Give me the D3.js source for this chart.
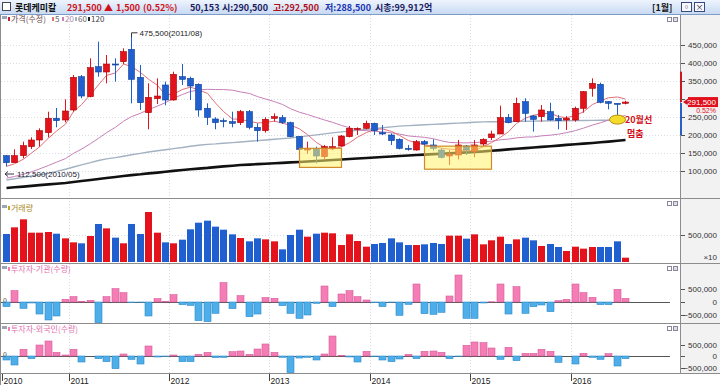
<!DOCTYPE html>
<html>
<head>
<meta charset="utf-8">
<script src="https://cdn.jsdelivr.net/npm/d3@7"></script>
<style>
body { margin: 0; background: #fff; }
svg { display: block; font-family: "Noto Sans CJK KR", "Liberation Sans", sans-serif; }
</style>
</head>
<body>
<svg id="chart" width="720" height="385"></svg>
<script>
// monthly candles, 2010/05 .. 2016/07
var opens = [142600,123200,142600,167600,186100,206500,246300,241700,269500,362000,
  306500,389800,375000,397200,403700,437900,360200,262000,300900,338900,
  297200,362000,357400,340800,274100,244500,239800,237000,234300,264800,
  221300,212000,246300,248100,234300,195400,158300,160200,139800,162900,
  169500,195400,215800,218500,232400,206500,200000,188000,162900,158300,
  181500,172300,158300,141700,144500,169500,153700,175000,192600,202800,
  249100,237000,292600,252800,250900,264800,246300,241700,241700,274100,
  329600,340800,292600,288000,288000];
var highs = [144500,160200,181500,193500,218500,264800,275000,299100,366700,366700,
  413000,459300,422200,413000,440700,475500,394500,343500,357400,348200,
  375900,397200,362000,343500,288000,249100,246300,264800,269500,269500,
  232400,249100,260200,255600,237000,197200,181500,167600,172300,193500,
  200000,225000,221300,239800,234300,227800,204600,190800,172300,186100,
  186100,188000,162900,158300,186100,172300,186100,190800,212000,281500,
  258300,303700,301900,255600,283300,289800,255600,252800,278700,322200,
  357400,345400,294400,288000,295000];
var lows = [112500,123200,135200,161100,167600,193500,221300,235200,264800,301900,
  304600,362000,343500,348200,397200,288000,269500,215800,286100,282400,
  295400,338900,297200,250900,227800,215800,221300,221300,227800,215800,
  181500,206500,237000,230600,193500,158300,147200,121300,130600,158300,
  167600,193500,200000,215800,200000,200000,172300,160200,156500,156500,
  169500,156500,135200,116700,132400,144500,138000,169500,186100,202800,
  232400,237000,237000,209300,237000,239800,215800,213900,237000,262000,
  306500,288000,271300,255600,285000];
var closes = [123200,142600,170400,186100,212000,246300,239800,266700,360200,308300,
  387000,375000,397200,394500,431500,354600,289800,304600,308300,297200,
  368500,354600,336100,269500,249100,234300,237000,232400,264800,221300,
  212000,243500,250900,235200,195400,160200,162900,141700,167600,167600,
  197200,218500,218500,232400,212000,202800,184300,162900,160200,181500,
  175000,162900,138000,147200,172300,158300,172300,188000,202800,248100,
  234300,288000,260200,243500,269500,241700,239800,246300,274100,320400,
  343500,290800,288000,285200,291500];

// moving averages as drawn on the chart
var ma5 = [113000,120000,133000,150000,166900,191500,210900,230200,265000,284300,
  312400,339400,365500,372400,397000,390600,373500,355000,337800,310900,
  313700,326600,332900,325200,315600,288700,265200,244500,243500,238000,
  233500,234800,238500,232600,227400,217000,200900,179100,165600,160000,
  167400,178500,193900,206800,215700,216800,210000,198900,184400,178300,
  172800,168500,163500,160900,159100,155700,157600,167600,178700,193900,
  209100,232200,246700,254800,259100,260600,250900,248200,254300,264500,
  284800,295000,303400,305600,299800];
var ma20 = [80300,84900,90900,97700,105800,115400,124400,134500,149000,160600,
  176000,190700,206300,221500,238300,251000,260500,270500,280400,289800,
  302000,312600,320900,325100,326900,326300,326200,324500,319700,315400,
  306600,300000,292700,284800,273000,263200,256900,248700,241700,235200,
  226700,219900,214000,212100,210300,208700,206100,202600,197400,195400,
  193500,189500,183800,179400,178300,178200,178700,181000,182700,186800,
  188600,192100,194200,194700,197600,199600,202300,206500,212200,219100,
  227600,234000,241500,248400,254300];
var ma60 = [75000,78600,82200,86100,89700,93300,98900,105000,111100,116900,
  123100,129200,133600,137200,141100,145000,148900,152800,156100,159200,
  162200,165300,168600,171700,173900,175300,177200,178900,180600,182500,
  184400,186100,188100,190000,191700,194700,197500,200300,203100,205800,
  208600,210800,213000,215600,217800,220000,222500,224700,226100,227200,
  228300,229400,230600,231900,233100,234200,235300,236400,236700,236900,
  237500,237800,238100,238600,238900,239200,239400,239700,240000,240300,
  240600,240800,241100,241400,241700];
var ma120 = [52800,54700,56700,58600,60800,62800,64700,66700,69400,72200,
  75000,77800,80600,83300,86100,88600,90800,93300,95600,98100,
  100300,102800,104700,106700,108600,110800,112800,114700,116700,117800,
  119200,120300,121400,122500,123900,125000,126400,127800,129200,130600,
  131900,133300,134700,136100,137500,138900,140300,141700,143100,144400,
  145500,146900,148100,149200,150300,151700,152800,154400,156400,158100,
  160000,161700,163600,165300,167000,168900,170600,172500,174200,176100,
  177800,179700,181700,183900,186100];

// volume (x10)
var volume = [524000,649000,799000,549000,549000,562000,530000,443000,368000,350000,
  487000,712000,630000,456000,350000,712000,524000,936000,549000,368000,
  350000,418000,612000,736000,774000,662000,605000,518000,449000,387000,
  443000,424000,387000,237000,506000,605000,474000,530000,549000,537000,
  318000,518000,393000,287000,337000,356000,443000,368000,318000,318000,
  331000,356000,337000,493000,493000,437000,518000,331000,406000,474000,
  337000,424000,456000,406000,300000,337000,281000,206000,287000,250000,
  281000,281000,281000,387000,81000];
// investor net buying (shares)
var institution = [-179000,436000,-244000,-38000,-462000,-692000,-538000,103000,205000,20000,
  64000,-795000,205000,513000,359000,-26000,-10000,-538000,128000,26000,
  282000,-103000,-128000,-718000,-756000,-436000,744000,-256000,244000,-564000,
  -462000,167000,141000,-141000,-436000,-628000,-500000,-51000,615000,-179000,
  308000,436000,205000,77000,-26000,-179000,-10000,-513000,-90000,692000,
  -449000,-474000,-397000,231000,1038000,-628000,-628000,-38000,10000,692000,
  -462000,590000,-436000,-179000,-115000,-372000,51000,103000,692000,359000,
  179000,-103000,-103000,487000,141000];
var foreign = [-174000,-391000,290000,-116000,478000,652000,159000,43000,290000,-261000,
  0,-116000,-246000,-551000,87000,-145000,-348000,435000,-43000,-20000,
  43000,-246000,-246000,72000,159000,-72000,-58000,188000,217000,72000,
  304000,522000,159000,-58000,-725000,-87000,-58000,-174000,87000,869000,
  29000,-43000,-261000,203000,-15000,-174000,-246000,-130000,72000,-116000,
  203000,217000,159000,-116000,-15000,464000,609000,580000,348000,-145000,
  377000,-203000,116000,116000,290000,203000,-275000,0,-348000,116000,
  -58000,-145000,101000,-435000,-116000];

var priceTicks = [100000,150000,200000,250000,300000,350000,400000,450000];
var yearTickMonths = ["2010/05","2011/01","2012/01","2013/01","2014/01","2015/01","2016/01"];
var yearLabels = ["2010","2011","2012","2013","2014","2015","2016"];
var boxes = [{from:"2013/04", to:"2013/09", hi:163000, lo:110000},
             {from:"2014/07", to:"2015/03", hi:169000, lo:105000}];
var rangeHigh = 376000, rangeLow = 200000;

var months = [];
for (var k = 0; k < closes.length; k++) {
  var yy = 2010 + Math.floor((4 + k) / 12), mm = (4 + k) % 12 + 1;
  months.push(yy + "/" + (mm < 10 ? "0" : "") + mm);
}

var svg = d3.select("#chart");
var x = d3.scaleBand().domain(months).range([1.8, 629.2]);
var cx = function(m){ return Math.round(x(m) + x.bandwidth() / 2) + 0.5; };
var yP = d3.scaleLinear().domain([0, 450000]).range([207, 45]);
var yV = d3.scaleLinear().domain([0, 500000]).range([262, 235.3]);
var yI = d3.scaleLinear().domain([-500000, 500000]).range([315, 289]);
var yF = d3.scaleLinear().domain([-500000, 500000]).range([367.5, 344.5]);

var UP = "#e3121b", DOWN = "#1f5fcf";
var last = closes[closes.length - 1];

// backgrounds and frames
svg.append("rect").attr("x", 680).attr("y", 14).attr("width", 40).attr("height", 359).attr("fill", "#f2f2f2");
var grad = svg.append("defs").append("linearGradient").attr("id", "tb").attr("x1", 0).attr("x2", 0).attr("y1", 0).attr("y2", 1);
grad.append("stop").attr("offset", 0).attr("stop-color", "#eef4fd");
grad.append("stop").attr("offset", 1).attr("stop-color", "#c8daf3");
svg.append("rect").attr("x", 0).attr("y", 0).attr("width", 720).attr("height", 14).attr("fill", "url(#tb)");
svg.append("line").attr("x1", 0).attr("x2", 720).attr("y1", 14.5).attr("y2", 14.5).attr("stroke", "#7f9cc6");

// grid
var grid = svg.append("g").attr("stroke", "#d8dee6").attr("stroke-dasharray", "1,2");
grid.selectAll(".hg").data(priceTicks).enter().append("line")
  .attr("x1", 1).attr("x2", 680).attr("y1", d => Math.round(yP(d)) + 0.5).attr("y2", d => Math.round(yP(d)) + 0.5);
grid.selectAll(".vg").data(yearTickMonths.slice(1)).enter().append("line")
  .attr("x1", d => Math.round(x(d)) + 0.5).attr("x2", d => Math.round(x(d)) + 0.5).attr("y1", 15).attr("y2", 373);
grid.append("line").attr("x1", 1).attr("x2", 680).attr("y1", Math.round(yV(500000)) + 0.5).attr("y2", Math.round(yV(500000)) + 0.5);

// moving averages
var line = function(arr){
  return d3.line().x((d, i) => cx(months[i])).y(d => yP(d))(arr);
};
svg.append("path").attr("d", line(ma120)).attr("fill", "none").attr("stroke", "#111").attr("stroke-width", 2.6);
svg.append("path").attr("d", line(ma60)).attr("fill", "none").attr("stroke", "#a3b1c2").attr("stroke-width", 1.4);
svg.append("path").attr("d", line(ma20)).attr("fill", "none").attr("stroke", "#c77fb8").attr("stroke-width", 1);
svg.append("path").attr("d", line(ma5)).attr("fill", "none").attr("stroke", "#e0707a").attr("stroke-width", 1);

// candles
var rows = months.map((m, i) => ({m: m, o: opens[i], h: highs[i], l: lows[i], c: closes[i]}));
var cg = svg.append("g").selectAll("g").data(rows).enter().append("g");
cg.append("line")
  .attr("x1", d => cx(d.m)).attr("x2", d => cx(d.m))
  .attr("y1", d => yP(d.h)).attr("y2", d => yP(d.l))
  .attr("stroke", d => d.c >= d.o ? UP : DOWN);
cg.append("rect")
  .attr("x", d => cx(d.m) - 3).attr("width", 6)
  .attr("y", d => yP(Math.max(d.o, d.c)))
  .attr("height", d => Math.max(1, yP(Math.min(d.o, d.c)) - yP(Math.max(d.o, d.c))))
  .attr("fill", d => d.c >= d.o ? UP : DOWN)
  .attr("stroke", d => d.c >= d.o ? "#a80000" : "#0e3f96").attr("stroke-width", 0.6);

// highlight boxes
svg.selectAll(".box").data(boxes).enter().append("rect")
  .attr("x", d => cx(d.from)).attr("width", d => cx(d.to) - cx(d.from))
  .attr("y", d => yP(d.hi)).attr("height", d => yP(d.lo) - yP(d.hi))
  .attr("fill", "#fff36a").attr("fill-opacity", 0.55)
  .attr("stroke", "#cf8a2a").attr("stroke-width", 1.2);

// 20 month line touch
var lastM = months[months.length - 2];
svg.append("ellipse").attr("cx", cx(lastM)).attr("cy", yP(ma60[ma60.length - 2]) - 0.5).attr("rx", 8).attr("ry", 4.5)
  .attr("fill", "#f6dc2a").attr("stroke", "#b58a10").attr("stroke-width", 1);
svg.append("text").attr("x", 625).attr("y", 122.5).attr("font-size", 9).attr("font-weight", "bold").attr("fill", "#d0101a").text("20월선");
svg.append("text").attr("x", 627).attr("y", 136.5).attr("font-size", 9).attr("font-weight", "bold").attr("fill", "#d0101a").text("멈춤");

// high / low labels
var hiM = months[highs.indexOf(d3.max(highs))], loM = months[lows.indexOf(d3.min(lows))];
svg.append("path").attr("d", "M" + cx(hiM) + "," + (yP(d3.max(highs)) + 1) + "V" + (yP(d3.max(highs)) - 3) + "h6")
  .attr("fill", "none").attr("stroke", "#333");
svg.append("text").attr("x", cx(hiM) + 8).attr("y", yP(d3.max(highs)) + 0.5).attr("font-size", 8)
  .attr("font-family", "Liberation Sans").attr("fill", "#222").text("475,500(2011/08)");
svg.append("path").attr("d", "M14," + (yP(d3.min(lows)) + 7.5) + "H5m3,-2.5l-3,2.5l3,2.5")
  .attr("fill", "none").attr("stroke", "#334");
svg.append("text").attr("x", 17).attr("y", yP(d3.min(lows)) + 10.5).attr("font-size", 8)
  .attr("font-family", "Liberation Sans").attr("fill", "#223").text("112,500(2010/05)");

// volume
svg.append("g").selectAll("rect").data(rows).enter().append("rect")
  .attr("x", d => cx(d.m) - 3.5).attr("width", 7)
  .attr("y", (d, i) => yV(volume[i])).attr("height", (d, i) => yV(0) - yV(volume[i]))
  .attr("fill", d => d.c >= d.o ? UP : DOWN);

// investors
var drawInv = function(vals, yS){
  svg.append("line").attr("x1", 1).attr("x2", 670).attr("y1", Math.round(yS(0)) + 0.5).attr("y2", Math.round(yS(0)) + 0.5)
    .attr("stroke", "#555");
  svg.append("g").selectAll("rect").data(vals).enter().append("rect")
    .attr("x", (d, i) => cx(months[i]) - 3.5).attr("width", 7)
    .attr("y", d => yS(Math.max(0, d))).attr("height", d => Math.abs(yS(d) - yS(0)))
    .attr("fill", d => d >= 0 ? "#f47db5" : "#4daee9")
    .attr("stroke", d => d >= 0 ? "#d85c9a" : "#2d8bcb").attr("stroke-width", 0.6);
};
drawInv(institution, yI);
drawInv(foreign, yF);

// panel frames
var sep = svg.append("g").attr("stroke", "#8c8c8c");
[198, 263, 323, 373].forEach(function(v){
  sep.append("line").attr("x1", 0).attr("x2", 720).attr("y1", v + 0.5).attr("y2", v + 0.5);
});
sep.append("line").attr("x1", 680.5).attr("x2", 680.5).attr("y1", 15).attr("y2", 373);
sep.append("line").attr("x1", 0.5).attr("x2", 0.5).attr("y1", 15).attr("y2", 385);

// range stripe on the price axis
svg.append("rect").attr("x", 680).attr("width", 2).attr("y", yP(rangeHigh)).attr("height", yP(last) - yP(rangeHigh)).attr("fill", "#d2141c");
svg.append("rect").attr("x", 680).attr("width", 2).attr("y", yP(last) + 1).attr("height", yP(rangeLow) - yP(last) - 1).attr("fill", "#2660c8");

// right axes (a label hidden under the current price tag is left out)
var fmt = d3.format(",");
var axisText = function(vals, yS){
  var g = svg.append("g").attr("font-family", "Liberation Sans").attr("font-size", 8).attr("fill", "#333");
  vals.forEach(function(v){
    g.append("line").attr("x1", 681).attr("x2", 685).attr("y1", Math.round(yS(v)) + 0.5).attr("y2", Math.round(yS(v)) + 0.5).attr("stroke", "#555");
    if (yS === yP && Math.abs(yS(v) - yP(last)) < 8) return;
    g.append("text").attr("x", 717).attr("y", yS(v) + 3).attr("text-anchor", "end").text(fmt(v));
  });
  return g;
};
axisText(priceTicks, yP);
axisText([500000], yV).append("text").attr("x", 717).attr("y", 260).attr("text-anchor", "end").text("×10");
axisText([500000, 0, -500000], yI);
axisText([500000, 0, -500000], yF);

// current price tag
svg.append("path").attr("d", "M683," + yP(last) + "l5,-3.5v7z").attr("fill", "#d2141c");
svg.append("rect").attr("x", 688).attr("y", yP(last) - 5).attr("width", 30).attr("height", 10).attr("fill", "#e0101c");
svg.append("text").attr("x", 716).attr("y", yP(last) + 3).attr("text-anchor", "end").attr("font-size", 8)
  .attr("font-family", "Liberation Sans").attr("fill", "#fff").text(fmt(last));
svg.append("text").attr("x", 716).attr("y", yP(last) + 10.5).attr("text-anchor", "end").attr("font-size", 7)
  .attr("font-family", "Liberation Sans").attr("fill", "#e0101c").text("0.52%");

// x axis
var xa = svg.append("g").attr("font-family", "Liberation Sans").attr("font-size", 8.5).attr("fill", "#222");
yearTickMonths.forEach(function(m, i){
  var tx = Math.max(2, Math.round(x(m))) + 0.5;
  xa.append("line").attr("x1", tx).attr("x2", tx).attr("y1", 374).attr("y2", 381).attr("stroke", "#444");
  xa.append("text").attr("x", tx + 1).attr("y", 384).text(yearLabels[i]);
});

// panel legends
var leg = function(items, y){
  var g = svg.append("g").attr("font-size", 8);
  g.append("rect").attr("x", 2).attr("y", y - 6).attr("width", 5).attr("height", 3).attr("fill", "#9aa6b8");
  items.forEach(function(it){
    g.append("rect").attr("x", it.x).attr("y", y - 5).attr("width", 2).attr("height", 4).attr("fill", it.sq);
    g.append("text").attr("x", it.x + 3).attr("y", y).attr("fill", it.col).text(it.t);
  });
};
leg([{x: 8, t: "가격(수정)", sq: "#c02030", col: "#6a4a4a"}, {x: 52, t: "5", sq: "#e0707a", col: "#666"},
     {x: 62, t: "20", sq: "#c77fb8", col: "#b08aa8"}, {x: 75, t: "60", sq: "#a3b1c2", col: "#666"},
     {x: 88, t: "120", sq: "#222", col: "#444"}], 22);
leg([{x: 8, t: "거래량", sq: "#c9a020", col: "#a88a1a"}], 211);
leg([{x: 8, t: "투자자-기관(수량)", sq: "#f47db5", col: "#e070ae"}], 272);
leg([{x: 8, t: "투자자-외국인(수량)", sq: "#f47db5", col: "#e070ae"}], 332);
svg.append("text").attr("x", 3).attr("y", 303).attr("font-size", 7).attr("fill", "#444").text("0");
svg.append("text").attr("x", 3).attr("y", 357).attr("font-size", 7).attr("fill", "#444").text("0");

// small panel buttons
[17, 201, 266, 326].forEach(function(v){
  svg.append("rect").attr("x", 667.5).attr("y", v + 0.5).attr("width", 4).attr("height", 4).attr("fill", "#fff").attr("stroke", "#889");
  svg.append("rect").attr("x", 673.5).attr("y", v + 0.5).attr("width", 4).attr("height", 4).attr("fill", "#dde").attr("stroke", "#889");
});

// title bar
svg.append("rect").attr("x", 2.5).attr("y", 2.5).attr("width", 8).attr("height", 8).attr("fill", "#fff").attr("stroke", "#445");
var title = [
  {x: 15, t: "롯데케미칼", c: "#111"},
  {x: 67, t: "291,500", c: "#d0101a"},
  {x: 104, t: "▲", c: "#d0101a"},
  {x: 116, t: "1,500", c: "#d0101a"},
  {x: 143, t: "(0.52%)", c: "#d0101a"},
  {x: 190, t: "50,153", c: "#1b1b5e"},
  {x: 222, t: "시:290,500", c: "#1b1b5e"},
  {x: 273, t: "고:292,500", c: "#b0101a"},
  {x: 325, t: "저:288,500", c: "#1a34b0"},
  {x: 375, t: "시총:99,912억", c: "#1b1b5e"},
  {x: 652, t: "[1월]", c: "#111"}
];
svg.append("g").attr("font-size", 9).attr("font-weight", "bold").selectAll("text").data(title).enter().append("text")
  .attr("x", d => d.x).attr("y", 10.5).attr("fill", d => d.c).text(d => d.t);
[681, 694].forEach(function(bx, i){
  svg.append("rect").attr("x", bx + 0.5).attr("y", 2.5).attr("width", 10).attr("height", 9).attr("fill", "#f8f8ff").attr("stroke", "#3a4a7a");
  svg.append("text").attr("x", bx + 5.5).attr("y", 10).attr("text-anchor", "middle").attr("font-size", 8).attr("fill", "#223")
    .text(i ? "×" : "▫");
});
</script>
</body>
</html>
